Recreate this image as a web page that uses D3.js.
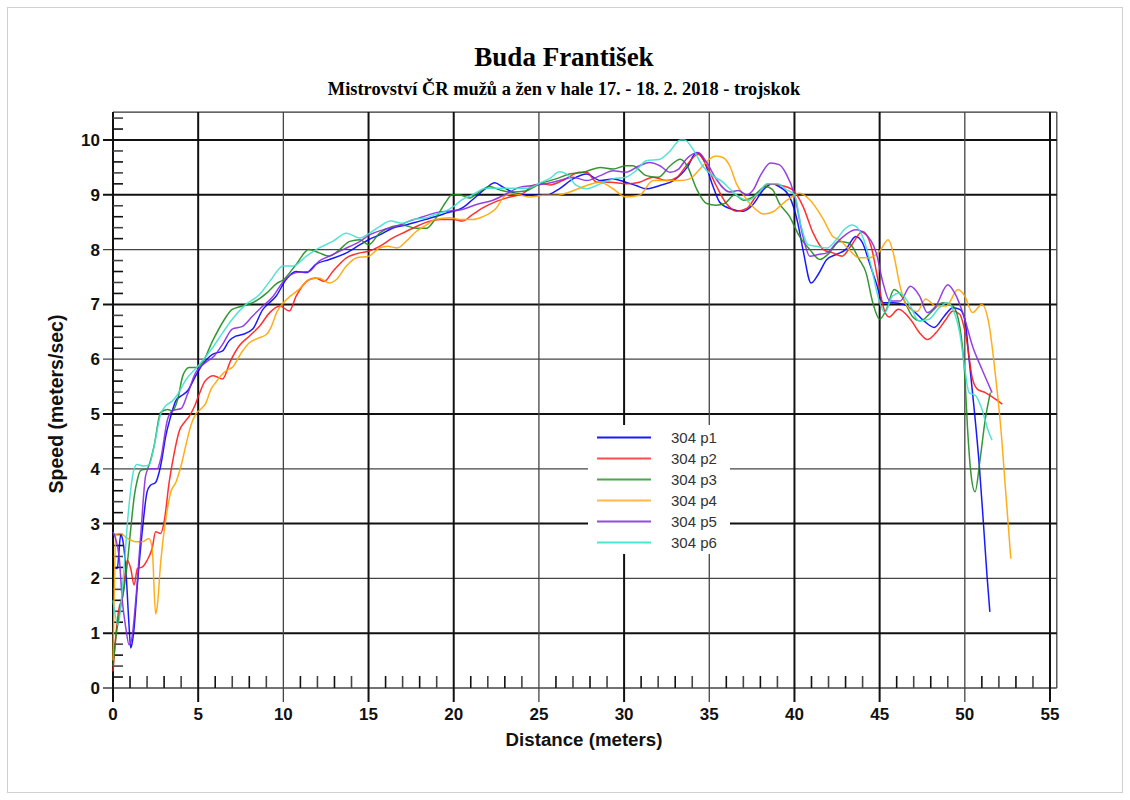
<!DOCTYPE html>
<html><head><meta charset="utf-8">
<script src="https://cdn.jsdelivr.net/npm/d3@7"></script>
<style>
html,body{margin:0;padding:0;background:#fff;}
svg{display:block;}
</style></head>
<body>
<svg id="chart" width="1130" height="800"></svg>
<script>
// ---------- data ----------
const title = "Buda František";
const subtitle = "Mistrovství ČR mužů a žen v hale 17. - 18. 2. 2018 - trojskok";
const xLabel = "Distance (meters)";
const yLabel = "Speed (meters/sec)";
const xTicks = [0,5,10,15,20,25,30,35,40,45,50,55];
const yTicks = [0,1,2,3,4,5,6,7,8,9,10];
const seriesNames = ["304 p1","304 p2","304 p3","304 p4","304 p5","304 p6"];
const seriesColors = ["#0000ff","#ff1a1a","#1e8c1e","#ffa500","#8a2be2","#40e0d0"];
const legendColors = ["#1a1aff","#ff4d4d","#4da64d","#ffb84d","#8c4de0","#4de6d6"];

const p1 = [[0,2.2],[0.25,2.18],[0.45,2.79],[0.55,2.73],[0.75,2.18],[0.94,1.15],[1.04,0.73],[1.14,0.85],[1.24,1.1],[1.43,1.88],[1.73,2.9],[2.0,3.58],[2.2,3.7],[2.5,3.75],[2.8,4.06],[3.1,4.6],[3.4,4.97],[3.7,5.25],[4.0,5.33],[4.37,5.42],[4.86,5.7],[5.25,5.9],[5.84,6.09],[6.43,6.15],[6.8,6.33],[7.2,6.42],[7.6,6.45],[8.2,6.55],[8.8,6.91],[9.18,7.03],[9.57,7.15],[10.15,7.45],[10.75,7.6],[11.35,7.58],[11.9,7.73],[12.7,7.82],[13.7,7.94],[14.5,8.09],[15.0,8.18],[15.65,8.27],[16.4,8.39],[17.2,8.45],[18.0,8.52],[18.9,8.6],[19.6,8.67],[20.5,8.76],[21.1,8.91],[21.9,9.12],[22.4,9.22],[22.9,9.14],[23.7,9.02],[24.65,8.99],[25.4,8.99],[26.2,9.11],[27.0,9.29],[27.8,9.38],[28.6,9.26],[29.35,9.29],[30.1,9.23],[30.7,9.17],[31.3,9.11],[32.1,9.17],[32.9,9.26],[33.7,9.5],[34.25,9.77],[34.65,9.65],[35.2,9.17],[35.6,8.87],[36.2,8.75],[37.0,8.7],[37.5,8.8],[38.2,9.1],[38.7,9.2],[39.1,9.15],[39.7,8.97],[40.2,8.48],[40.5,8.0],[40.98,7.39],[41.4,7.55],[41.9,7.82],[42.45,7.91],[43.0,8.0],[43.6,8.24],[44.0,8.12],[44.4,7.76],[44.8,7.39],[45.2,7.03],[45.8,7.03],[46.4,7.0],[47.0,6.88],[47.6,6.7],[48.2,6.58],[48.8,6.79],[49.3,6.94],[49.7,6.91],[50.0,6.73],[50.25,6.0],[50.55,5.09],[50.85,4.06],[51.1,2.97],[51.3,2.06],[51.47,1.39]];
const p2 = [[0,0.3],[0.15,0.9],[0.35,1.45],[0.55,1.64],[0.84,2.33],[1.04,2.18],[1.24,1.88],[1.43,2.18],[1.73,2.21],[2.0,2.33],[2.3,2.55],[2.5,2.85],[2.8,2.82],[3.0,3.03],[3.3,3.76],[3.6,4.3],[3.9,4.7],[4.2,4.85],[4.5,4.97],[4.8,5.15],[5.06,5.36],[5.4,5.6],[5.9,5.7],[6.43,5.64],[6.9,5.97],[7.4,6.24],[8.0,6.42],[8.6,6.6],[9.2,6.85],[9.8,6.97],[10.35,6.88],[10.75,7.15],[11.5,7.45],[11.9,7.48],[12.4,7.42],[12.9,7.6],[13.7,7.85],[14.5,7.94],[15.0,7.97],[15.65,8.06],[16.4,8.21],[17.2,8.33],[18.0,8.45],[18.6,8.52],[19.2,8.55],[20.0,8.55],[20.5,8.52],[21.1,8.64],[21.7,8.76],[22.5,8.88],[23.3,8.96],[24.1,9.03],[24.65,9.17],[25.24,9.2],[25.65,9.18],[26.4,9.26],[27.4,9.41],[27.8,9.41],[28.4,9.23],[29.2,9.23],[30.1,9.2],[30.9,9.23],[31.7,9.32],[32.5,9.26],[33.1,9.32],[33.65,9.53],[34.35,9.74],[34.85,9.53],[35.4,9.17],[36.0,8.84],[36.6,8.7],[37.2,8.75],[37.8,9.0],[38.5,9.2],[39.1,9.18],[39.9,9.09],[40.5,8.79],[41.1,8.3],[41.7,8.0],[42.25,7.94],[42.8,7.88],[43.3,8.06],[44.0,8.33],[44.5,8.06],[44.9,7.45],[45.2,6.97],[45.55,6.77],[46.1,6.91],[46.8,6.73],[47.35,6.48],[47.8,6.36],[48.3,6.48],[48.9,6.73],[49.3,6.88],[49.7,6.82],[50.1,6.36],[50.45,5.64],[50.75,5.45],[51.2,5.39],[51.8,5.27],[52.2,5.18]];
const p3 = [[0,0.4],[0.2,1.0],[0.4,1.4],[0.65,1.82],[0.85,2.3],[1.04,2.9],[1.25,3.5],[1.43,3.8],[1.63,3.97],[2.0,4.0],[2.4,4.4],[2.8,5.03],[3.2,5.08],[3.5,5.06],[3.8,5.27],[4.1,5.7],[4.47,5.85],[4.86,5.85],[5.25,5.94],[5.84,6.33],[6.43,6.67],[7.0,6.91],[7.6,6.97],[8.2,7.03],[9.0,7.2],[9.6,7.38],[10.0,7.45],[10.75,7.73],[11.5,8.0],[12.1,7.94],[12.7,7.88],[13.3,8.0],[13.9,8.15],[14.5,8.18],[15.0,8.09],[15.65,8.3],[16.4,8.42],[17.0,8.45],[17.8,8.39],[18.4,8.39],[18.9,8.55],[19.5,8.85],[19.9,9.0],[20.35,9.0],[20.9,8.94],[21.5,9.05],[22.1,9.15],[22.7,9.09],[23.4,9.05],[24.2,9.07],[25.05,9.2],[26.0,9.29],[26.8,9.38],[27.6,9.41],[28.6,9.5],[29.35,9.47],[30.1,9.53],[30.5,9.53],[31.3,9.35],[32.0,9.32],[32.7,9.53],[33.3,9.65],[33.7,9.53],[34.25,9.11],[34.85,8.84],[35.4,8.81],[35.9,8.84],[36.5,9.0],[37.0,8.9],[37.5,8.95],[38.3,9.15],[38.7,9.1],[39.1,8.85],[39.7,8.61],[40.3,8.24],[40.9,8.0],[41.5,7.82],[42.05,7.94],[42.65,8.15],[43.2,8.12],[43.8,7.82],[44.2,7.58],[44.6,7.03],[45.0,6.73],[45.4,6.91],[45.85,7.27],[46.3,7.15],[46.9,6.79],[47.4,6.7],[48.0,6.85],[48.7,7.03],[49.3,6.97],[49.7,6.6],[50.0,5.7],[50.15,4.79],[50.35,3.94],[50.6,3.58],[50.9,4.18],[51.2,4.9],[51.5,5.39]];
const p4 = [[0,0.5],[0.1,2.2],[0.16,2.8],[0.45,2.82],[0.84,2.73],[1.33,2.67],[1.73,2.67],[2.1,2.73],[2.3,2.55],[2.5,1.35],[2.6,1.5],[2.8,2.3],[3.1,3.09],[3.4,3.58],[3.7,3.76],[4.0,4.06],[4.27,4.42],[4.57,4.79],[4.86,5.0],[5.16,5.09],[5.45,5.2],[5.75,5.45],[6.04,5.58],[6.33,5.7],[6.7,5.8],[7.0,5.85],[7.5,6.1],[8.0,6.3],[8.5,6.38],[9.0,6.45],[9.3,6.6],[9.6,6.85],[10.0,7.03],[10.4,7.15],[10.9,7.27],[11.5,7.45],[12.1,7.48],[12.7,7.39],[13.1,7.45],[13.7,7.7],[14.3,7.85],[15.0,7.88],[15.65,8.03],[16.1,8.06],[16.7,8.03],[17.2,8.15],[17.8,8.33],[18.4,8.45],[18.9,8.55],[19.8,8.58],[20.35,8.55],[21.1,8.55],[21.7,8.6],[22.5,8.76],[23.0,8.98],[23.5,9.02],[24.46,8.96],[25.24,8.99],[26.0,8.99],[26.8,9.05],[27.8,9.17],[28.6,9.23],[29.35,9.11],[30.1,8.96],[30.9,8.99],[31.7,9.26],[32.5,9.26],[33.3,9.26],[33.85,9.29],[34.45,9.47],[35.0,9.65],[35.4,9.71],[35.8,9.68],[36.2,9.53],[36.6,9.2],[37.0,9.0],[37.5,8.8],[38.2,8.65],[38.8,8.7],[39.1,8.78],[39.6,8.91],[40.3,9.03],[40.9,8.91],[41.7,8.55],[42.25,8.24],[42.65,8.18],[43.2,8.0],[43.8,7.85],[44.4,7.85],[45.0,7.97],[45.5,8.18],[45.8,7.94],[46.2,7.33],[46.6,6.97],[47.2,6.87],[47.7,7.1],[48.3,6.97],[48.9,6.97],[49.6,7.27],[50.0,7.15],[50.45,6.85],[51.0,7.0],[51.4,6.67],[51.8,5.7],[52.1,4.79],[52.4,3.58],[52.7,2.36]];
const p5 = [[0,2.85],[0.35,2.42],[0.55,1.58],[0.75,1.1],[0.94,0.79],[1.1,0.9],[1.33,1.58],[1.63,2.8],[1.92,3.88],[2.1,4.0],[2.6,4.0],[2.8,4.18],[3.2,4.9],[3.5,5.06],[4.0,5.1],[4.37,5.36],[4.86,5.76],[5.0,5.82],[5.45,5.94],[5.94,6.06],[6.43,6.27],[7.0,6.55],[7.6,6.6],[8.2,6.79],[8.8,6.97],[9.4,7.15],[10.0,7.42],[10.75,7.58],[11.5,7.6],[12.1,7.79],[12.7,7.88],[13.5,8.0],[14.5,8.15],[15.06,8.27],[15.85,8.36],[16.6,8.42],[17.4,8.52],[18.2,8.6],[18.9,8.67],[19.6,8.7],[20.5,8.73],[21.3,8.82],[22.3,8.9],[23.1,9.02],[23.9,9.14],[24.65,9.17],[25.4,9.2],[26.2,9.26],[27.0,9.32],[27.8,9.26],[28.6,9.35],[29.35,9.44],[30.1,9.41],[30.9,9.53],[31.5,9.59],[32.1,9.53],[32.7,9.41],[33.2,9.47],[33.65,9.65],[34.35,9.77],[34.85,9.59],[35.4,9.29],[36.2,9.05],[36.7,9.08],[37.2,9.0],[37.6,9.1],[38.0,9.35],[38.6,9.58],[39.1,9.55],[39.5,9.39],[40.0,9.0],[40.5,8.24],[40.9,7.88],[41.4,7.91],[41.9,7.94],[42.45,8.12],[43.0,8.27],[43.6,8.36],[44.2,8.27],[44.8,7.94],[45.2,7.39],[45.6,7.06],[46.2,7.06],[46.8,7.33],[47.35,7.15],[47.8,6.85],[48.3,6.97],[49.0,7.36],[49.5,7.15],[50.0,6.73],[50.45,6.24],[51.0,5.82],[51.6,5.39]];
const p6 = [[0,1.6],[0.3,1.15],[0.6,2.0],[0.9,3.2],[1.2,3.95],[1.4,4.08],[1.8,4.05],[2.12,4.07],[2.4,4.4],[2.8,5.0],[3.1,5.15],[3.5,5.24],[3.8,5.36],[4.27,5.62],[5.06,5.9],[5.84,6.21],[6.43,6.48],[7.0,6.73],[7.8,7.0],[8.6,7.18],[9.2,7.42],[10.0,7.7],[10.55,7.7],[11.35,7.88],[12.1,8.03],[12.9,8.15],[13.7,8.3],[14.5,8.21],[15.06,8.3],[15.65,8.42],[16.3,8.52],[17.0,8.48],[17.6,8.55],[18.4,8.58],[18.9,8.64],[19.5,8.7],[20.0,8.79],[20.5,8.91],[21.1,9.0],[21.9,9.12],[22.7,9.12],[23.5,9.12],[24.3,9.12],[25.1,9.22],[25.65,9.3],[26.2,9.42],[26.6,9.38],[27.2,9.17],[27.8,9.11],[28.6,9.2],[29.35,9.29],[30.1,9.32],[30.7,9.44],[31.3,9.62],[32.1,9.65],[32.7,9.8],[33.3,10.0],[33.55,10.0],[34.05,9.83],[34.6,9.53],[35.2,9.35],[35.8,9.23],[36.2,9.11],[36.8,8.95],[37.3,8.9],[37.8,9.0],[38.4,9.2],[39.0,9.2],[39.5,9.1],[40.0,9.0],[40.4,8.42],[40.8,8.09],[41.3,8.06],[41.9,8.03],[42.45,8.18],[43.0,8.39],[43.4,8.45],[44.0,8.24],[44.5,7.7],[44.9,7.15],[45.3,6.85],[45.75,7.15],[46.2,7.21],[46.8,6.97],[47.3,6.7],[47.9,6.73],[48.5,6.94],[49.0,7.03],[49.3,6.91],[49.7,6.48],[50.0,5.82],[50.25,5.39],[50.65,5.33],[51.0,5.09],[51.4,4.67],[51.6,4.52]];
const allSeries = [p1,p2,p3,p4,p5,p6];

// ---------- layout ----------
const svg = d3.select("#chart");
const x = d3.scaleLinear().domain([0,55]).range([113,1050]);
const y = d3.scaleLinear().domain([0,10]).range([688,140]);
const xMax = 55.4, yMax = 10.51;
const serif = "'Liberation Serif','Times New Roman',serif";
const sans = "'Liberation Sans',Arial,sans-serif";

// page border
svg.append("rect").attr("x",7.5).attr("y",7.5).attr("width",1115).attr("height",785)
  .attr("fill","none").attr("stroke","#d0d0d0").attr("stroke-width",1);

// titles
svg.append("text").attr("x",564).attr("y",66).attr("text-anchor","middle")
  .attr("font-family",serif).attr("font-weight","bold").attr("font-size",27).text(title);
svg.append("text").attr("x",564).attr("y",95).attr("text-anchor","middle")
  .attr("font-family",serif).attr("font-weight","bold").attr("font-size",18.4).text(subtitle);

// frame
const g = svg.append("g");
g.append("line").attr("x1",x(0)).attr("x2",x(xMax)).attr("y1",y(yMax)).attr("y2",y(yMax)).attr("stroke","#333").attr("stroke-width",1.2);
g.append("line").attr("x1",x(xMax)).attr("x2",x(xMax)).attr("y1",y(yMax)).attr("y2",y(0)).attr("stroke","#333").attr("stroke-width",1.2);

const heavyY = new Set([1,3,5,7,9,10]);
const heavyX = new Set([0,5,15,20,30,40,45,55]);

// horizontal gridlines + left ticks
g.selectAll(".hg").data(yTicks).join("line")
  .attr("x1",x(0)-10).attr("x2",x(xMax)).attr("y1",d=>y(d)).attr("y2",d=>y(d))
  .attr("stroke",d=>heavyY.has(d)?"#111":"#444").attr("stroke-width",d=>heavyY.has(d)?2:1.3);
// vertical gridlines + bottom ticks
g.selectAll(".vg").data(xTicks).join("line")
  .attr("x1",d=>x(d)).attr("x2",d=>x(d)).attr("y1",y(yMax)).attr("y2",y(0)+14)
  .attr("stroke",d=>heavyX.has(d)?"#111":"#444").attr("stroke-width",d=>heavyX.has(d)?2:1.3);

// minor ticks
const xMinor = d3.range(1,55).filter(v=>v%5!==0);
g.selectAll(".xm").data(xMinor).join("line")
  .attr("x1",d=>x(d)).attr("x2",d=>x(d)).attr("y1",y(0)).attr("y2",y(0)-12)
  .attr("stroke",(d,i)=>i%2?"#444":"#111").attr("stroke-width",1.6);
const yMinor = d3.range(1,53).map(v=>v/5).filter(v=>Math.abs(v-Math.round(v))>1e-6);
g.selectAll(".ym").data(yMinor).join("line")
  .attr("x1",x(0)).attr("x2",x(0)+10).attr("y1",d=>y(d)).attr("y2",d=>y(d))
  .attr("stroke",(d,i)=>i%2?"#444":"#111").attr("stroke-width",1.6);

// tick labels
g.selectAll(".xl").data(xTicks).join("text")
  .attr("x",d=>x(d)).attr("y",720).attr("text-anchor","middle")
  .attr("font-family",sans).attr("font-weight","bold").attr("font-size",17).attr("fill","#111").text(d=>d);
g.selectAll(".yl").data(yTicks).join("text")
  .attr("x",100).attr("y",d=>y(d)+6).attr("text-anchor","end")
  .attr("font-family",sans).attr("font-weight","bold").attr("font-size",17).attr("fill","#111").text(d=>d);

// axis titles
svg.append("text").attr("x",584).attr("y",746).attr("text-anchor","middle")
  .attr("font-family",sans).attr("font-weight","bold").attr("font-size",18.7).attr("fill","#111").text(xLabel);
svg.append("text").attr("transform","translate(63,404) rotate(-90)").attr("text-anchor","middle")
  .attr("font-family",sans).attr("font-weight","bold").attr("font-size",19.5).attr("fill","#111").text(yLabel);

// series
const line = d3.line().x(d=>x(d[0])).y(d=>y(d[1])).curve(d3.curveMonotoneX);
svg.append("g").selectAll("path").data(allSeries).join("path")
  .attr("d",line).attr("fill","none")
  .attr("stroke",(d,i)=>seriesColors[i]).attr("stroke-width",1.5).attr("stroke-opacity",0.9);

// legend (white background box hides grid behind it)
const lg = svg.append("g");
lg.append("rect").attr("x",588).attr("y",425).attr("width",142).attr("height",129).attr("fill","#fff");
const rows = lg.selectAll("g").data(seriesNames).join("g")
  .attr("transform",(d,i)=>`translate(0,${437.5+i*21})`);
rows.append("line").attr("x1",597).attr("x2",651).attr("y1",0).attr("y2",0)
  .attr("stroke",(d,i)=>legendColors[i]).attr("stroke-width",2);
rows.append("text").attr("x",671).attr("y",5).attr("font-family",sans).attr("font-size",15)
  .attr("fill","#333").text(d=>d);
</script>
</body></html>
